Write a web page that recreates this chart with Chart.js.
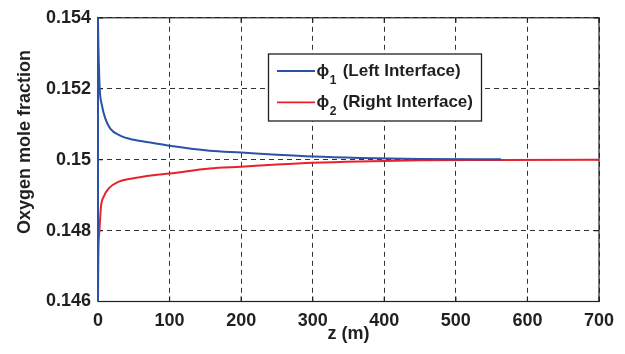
<!DOCTYPE html>
<html>
<head>
<meta charset="utf-8">
<script src="https://cdn.jsdelivr.net/npm/chart.js@4.4.1/dist/chart.umd.min.js"></script>
<style>
  html, body { margin: 0; padding: 0; background: #fff; }
  #wrap { width: 625px; height: 354px; position: relative; }
</style>
</head>
<body>
<div id="wrap"><canvas id="oxygenChart"></canvas></div>
<script>
// Oxygen mole fraction along z at the two interfaces
const zLeft = [0, 0, 0.3, 1.2, 2.4, 5.6, 10.4, 17.4, 31, 50, 77, 100, 156, 200, 250, 300, 366, 450, 563];
const phiLeft = [0.146, 0.154, 0.1535, 0.1527, 0.152, 0.15152, 0.15115, 0.15087, 0.15068, 0.15056,
  0.15047, 0.15039, 0.15025, 0.1502, 0.15014, 0.15009, 0.15005, 0.15002, 0.15001];
const zRight = [0, 0.5, 2, 4.2, 8, 15, 29, 48, 77, 100, 156, 200, 250, 300, 366, 450, 563, 700];
const phiRight = [0.146, 0.14728, 0.148, 0.14868, 0.14896, 0.14919, 0.14938, 0.14947, 0.14956, 0.14961,
  0.14975, 0.1498, 0.14986, 0.14991, 0.14995, 0.14998, 0.14999, 0.15];

const xTicks = [0, 100, 200, 300, 400, 500, 600, 700];
const xTickLabels = ["0", "100", "200", "300", "400", "500", "600", "700"];
const yTicks = [0.146, 0.148, 0.15, 0.152, 0.154];
const yTickLabels = ["0.146", "0.148", "0.15", "0.152", "0.154"];

const seriesSubs = ["1", "2"];
const seriesNames = [" (Left Interface)", " (Right Interface)"];
const seriesColors = ["#2a52a6", "#e8222d"];

const FONT = '"Liberation Sans", Arial, sans-serif';
const INK = "#231f20";

// frame, inward ticks, axis titles and the boxed legend
const framePlugin = {
  id: "framePlugin",
  beforeDatasetsDraw(chart) {
    const { ctx, chartArea: a, scales } = chart;
    ctx.save();
    ctx.strokeStyle = INK;
    ctx.lineWidth = 1.2;
    ctx.strokeRect(a.left, a.top, a.right - a.left, a.bottom - a.top);
    ctx.beginPath();
    xTicks.forEach((v) => {
      const x = scales.x.getPixelForValue(v);
      ctx.moveTo(x, a.bottom);
      ctx.lineTo(x, a.bottom - 5);
      ctx.moveTo(x, a.top);
      ctx.lineTo(x, a.top + 5);
    });
    yTicks.forEach((v) => {
      const y = scales.y.getPixelForValue(v);
      ctx.moveTo(a.left, y);
      ctx.lineTo(a.left + 5, y);
      ctx.moveTo(a.right, y);
      ctx.lineTo(a.right - 5, y);
    });
    ctx.stroke();
    ctx.restore();
  },
  afterDraw(chart) {
    const { ctx, chartArea: a } = chart;
    ctx.save();
    ctx.fillStyle = INK;
    ctx.font = "bold 18px " + FONT;

    // x title
    ctx.textAlign = "center";
    ctx.textBaseline = "alphabetic";
    ctx.fillText("z (m)", (a.left + a.right) / 2, 339);

    // y title
    ctx.save();
    ctx.translate(30, 142);
    ctx.rotate(-Math.PI / 2);
    ctx.fillText("Oxygen mole fraction", 0, 0);
    ctx.restore();

    // legend
    const box = { x: 268.5, y: 54, w: 213, h: 67 };
    ctx.fillStyle = "#fff";
    ctx.fillRect(box.x, box.y, box.w, box.h);
    ctx.strokeStyle = INK;
    ctx.lineWidth = 1.3;
    ctx.strokeRect(box.x, box.y, box.w, box.h);

    ctx.textAlign = "left";
    seriesNames.forEach((name, i) => {
      const cy = 71 + i * 31.3;
      ctx.strokeStyle = seriesColors[i];
      ctx.lineWidth = 1.8;
      ctx.beginPath();
      ctx.moveTo(277, cy);
      ctx.lineTo(315, cy);
      ctx.stroke();

      ctx.fillStyle = INK;
      let x = 316.5;
      ctx.font = "bold 17px " + FONT;
      ctx.fillText("\u03d5", x, cy + 5);
      x += ctx.measureText("\u03d5").width + 0.5;
      ctx.font = "bold 12px " + FONT;
      ctx.fillText(seriesSubs[i], x, cy + 13);
      x += ctx.measureText(seriesSubs[i]).width + 1.5;
      ctx.font = "bold 17px " + FONT;
      ctx.fillText(name, x, cy + 5);
    });
    ctx.restore();
  },
};

const ctx = document.getElementById("oxygenChart").getContext("2d");
new Chart(ctx, {
  type: "line",
  data: {
    datasets: [
      {
        label: "\u03d51" + seriesNames[0],
        data: zLeft.map((z, i) => ({ x: z, y: phiLeft[i] })),
        borderColor: seriesColors[0],
        borderWidth: 2,
        pointRadius: 0,
        cubicInterpolationMode: "monotone",
        clip: 2,
      },
      {
        label: "\u03d52" + seriesNames[1],
        data: zRight.map((z, i) => ({ x: z, y: phiRight[i] })),
        borderColor: seriesColors[1],
        borderWidth: 2,
        pointRadius: 0,
        cubicInterpolationMode: "monotone",
        clip: 2,
      },
    ],
  },
  options: {
    responsive: true,
    maintainAspectRatio: false,
    animation: false,
    layout: { padding: { top: 15, right: 26, left: 0, bottom: 0 } },
    plugins: {
      legend: { display: false },
      tooltip: { enabled: false },
    },
    scales: {
      x: {
        type: "linear",
        min: 0,
        max: 700,
        afterBuildTicks: (s) => {
          s.ticks = xTicks.map((v) => ({ value: v }));
        },
        afterFit: (s) => {
          s.height = 52.5;
        },
        grid: { color: "#333", lineWidth: 1, drawTicks: false },
        border: { display: false, dash: [5, 4] },
        ticks: {
          padding: 9,
          color: INK,
          maxRotation: 0,
          font: { family: FONT, size: 18, weight: "bold" },
          callback: (v, i) => xTickLabels[i],
        },
      },
      y: {
        type: "linear",
        min: 0.146,
        max: 0.154,
        afterBuildTicks: (s) => {
          s.ticks = yTicks.map((v) => ({ value: v }));
        },
        afterFit: (s) => {
          s.width = 98;
        },
        grid: { color: "#333", lineWidth: 1, drawTicks: false },
        border: { display: false, dash: [5, 4] },
        ticks: {
          padding: 7,
          color: INK,
          font: { family: FONT, size: 18, weight: "bold" },
          callback: (v, i) => yTickLabels[i],
        },
      },
    },
  },
  plugins: [framePlugin],
});
</script>
</body>
</html>
